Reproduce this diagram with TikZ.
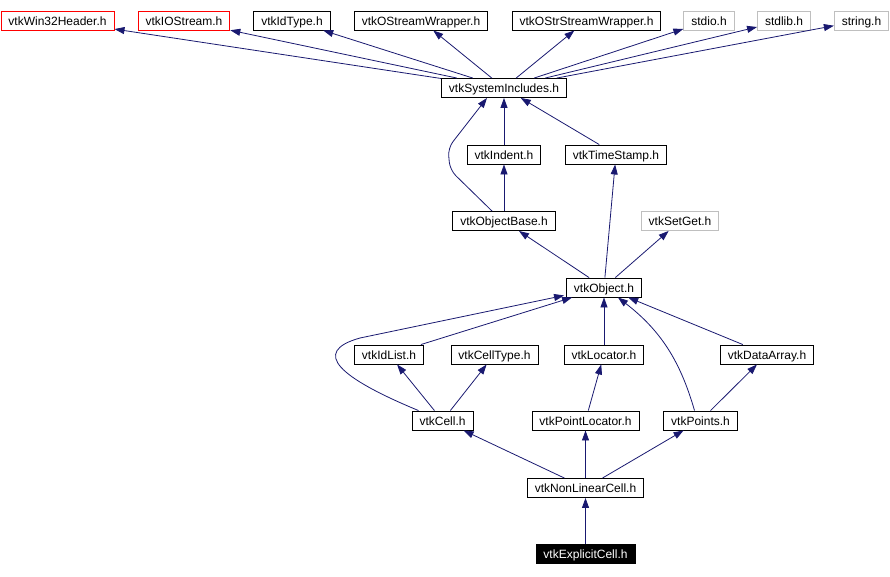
\documentclass[tikz,border=0pt]{standalone}
\usepackage{fontspec}
\setmainfont{Liberation Sans}
\usepackage{tikz}
\usetikzlibrary{calc, arrows.meta}

\definecolor{edgeblue}{RGB}{25,25,112}
\definecolor{sysgray}{RGB}{191,191,191}

\begin{document}
\begin{tikzpicture}[x=1pt, y=-1pt,
    every node/.style={font=\fontsize{12}{14}\selectfont, inner xsep=7.5pt, inner ysep=0pt,
      text height=9pt, text depth=0pt, minimum height=19pt},
    hdr/.style={draw=black, line width=0.9pt},
    sysh/.style={draw=sysgray, line width=0.9pt},
    missing/.style={draw=red, line width=0.9pt},
    current/.style={draw=black, fill=black, text=white},
    dep/.style={draw=edgeblue, line width=0.8pt, -{Triangle[length=10pt, width=7pt]}}]
  \useasboundingbox (0,0) rectangle (890,576);
  % Top row: headers included by vtkSystemIncludes.h
  \node[missing] (win32) at (57.5,20.5) {vtkWin32Header.h};
  \node[missing] (iostream) at (184,20.5) {vtkIOStream.h};
  \node[hdr] (idtype) at (292,20.5) {vtkIdType.h};
  \node[hdr] (ostream) at (421,20.5) {vtkOStreamWrapper.h};
  \node[hdr] (ostrstream) at (586.5,20.5) {vtkOStrStreamWrapper.h};
  \node[sysh] (stdio) at (709,20.5) {stdio.h};
  \node[sysh] (stdlib) at (784,20.5) {stdlib.h};
  \node[sysh] (string) at (861.5,20.5) {string.h};
  % Middle
  \node[hdr] (sysinc) at (504,88) {vtkSystemIncludes.h};
  \node[hdr] (indent) at (504,154.5) {vtkIndent.h};
  \node[hdr] (timestamp) at (616,154.5) {vtkTimeStamp.h};
  \node[hdr] (objbase) at (504,221) {vtkObjectBase.h};
  \node[sysh] (setget) at (680,221) {vtkSetGet.h};
  \node[hdr] (object) at (604,287.5) {vtkObject.h};
  \node[hdr] (idlist) at (389,354.5) {vtkIdList.h};
  \node[hdr] (celltype) at (494.5,354.5) {vtkCellType.h};
  \node[hdr] (locator) at (604,354.5) {vtkLocator.h};
  \node[hdr] (dataarray) at (767,354.5) {vtkDataArray.h};
  \node[hdr] (cell) at (442.5,420.5) {vtkCell.h};
  \node[hdr] (ptlocator) at (585.5,420.5) {vtkPointLocator.h};
  \node[hdr] (points) at (700.5,420.5) {vtkPoints.h};
  \node[hdr] (nonlinear) at (585.5,488) {vtkNonLinearCell.h};
  \node[current] (explicit) at (585.5,554) {vtkExplicitCell.h};

  % Include edges
  \foreach \t in {win32, iostream, idtype, ostream, ostrstream, stdio, stdlib, string}
    \draw[dep] (sysinc) -- (\t);
  \draw[dep] (indent) -- (sysinc);
  \draw[dep] (timestamp) -- (sysinc);
  \draw[dep, rounded corners=8pt] ($(objbase.north)+(-12,0)$) -- (450,170) -- (448,148)
    -- ($(sysinc.south)+(-17,0)$);
  \draw[dep] (objbase) -- (indent);
  \draw[dep] (object) -- (objbase);
  \draw[dep] (object) -- (timestamp);
  \draw[dep] (object) -- (setget);
  \draw[dep] (idlist) -- (object);
  \draw[dep] (locator) -- (object);
  \draw[dep] (dataarray) -- (object);
  \draw[dep] ($(points.north)+(-6,0)$) .. controls (680,360) and (660,330) .. ($(object.south east)+(-24,0)$);
  \draw[dep] ($(cell.north)+(-24,0)$) .. controls (340,378) and (310,352) .. (360,338) -- ($(object.south west)+(-2,-2)$);
  \draw[dep] (cell) -- (idlist);
  \draw[dep] (cell) -- (celltype);
  \draw[dep] (ptlocator) -- (locator);
  \draw[dep] (points) -- (dataarray);
  \draw[dep] (nonlinear) -- (cell);
  \draw[dep] (nonlinear) -- (ptlocator);
  \draw[dep] (nonlinear) -- (points);
  \draw[dep] (explicit) -- (nonlinear);
\end{tikzpicture}
\end{document}
